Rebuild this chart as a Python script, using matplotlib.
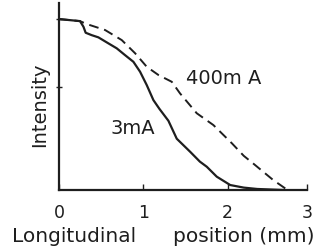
import matplotlib
matplotlib.use("Agg")
import matplotlib.pyplot as plt

# 3 mA (solid)
x_3ma = [0.0, 0.249, 0.29, 0.316, 0.387, 0.467, 0.585, 0.684, 0.783, 0.882, 0.961, 1.04, 1.119,
         1.19, 1.297, 1.396, 1.554, 1.67, 1.752, 1.87, 2.03, 2.19, 2.35, 2.66]
y_3ma = [1.0, 0.988, 0.955, 0.92, 0.906, 0.893, 0.858, 0.829, 0.789, 0.75, 0.692, 0.614, 0.526,
         0.475, 0.405, 0.30, 0.224, 0.166, 0.136, 0.078, 0.029, 0.014, 0.006, 0.0]

# 400 mA (dashed)
x_400 = [0.0, 0.249, 0.328, 0.546, 0.744, 0.902, 1.04, 1.178, 1.337, 1.435, 1.633, 1.83, 2.05,
         2.19, 2.30, 2.54, 2.68, 2.71]
y_400 = [1.0, 0.988, 0.971, 0.936, 0.877, 0.80, 0.721, 0.673, 0.633, 0.565, 0.449, 0.38, 0.273,
         0.20, 0.156, 0.058, 0.01, 0.0]

xticks = [0, 1, 2, 2.94]
xticklabels = ["0", "1", "2", "3"]
yticks = [0.6, 1.0]

INK = "#1e1e1e"

fig = plt.figure(figsize=(3.14, 2.48), dpi=100)
ax = fig.add_axes([59/314, (248-190)/248, (307-59)/314, (190-3)/248])

ax.plot(x_3ma, y_3ma, color=INK, lw=1.6, solid_joinstyle="round")
ax.plot(x_400, y_400, color=INK, lw=1.4, dashes=(5, 3))

ax.set_xlim(0, 2.94)
ax.set_ylim(0, 1.094)
for s in ["top", "right"]:
    ax.spines[s].set_visible(False)
for s in ["left", "bottom"]:
    ax.spines[s].set_linewidth(1.6)
    ax.spines[s].set_color(INK)

ax.set_xticks(xticks)
ax.set_xticklabels(xticklabels, fontsize=12.5)
ax.tick_params(axis="x", direction="in", length=4, width=1, pad=10, colors=INK)
ax.set_yticks(yticks)
ax.set_yticklabels([])
ax.tick_params(axis="y", direction="inout", length=4, width=1, colors=INK)

fig.text(40/314, 1 - 105/248, "Intensity", fontsize=14, rotation=90,
         ha="center", va="center", color=INK)
fig.text(12/314, 1 - 241.7/248, "Longitudinal", fontsize=14.5, ha="left", va="baseline", color=INK)
fig.text(173/314, 1 - 241.7/248, "position (mm)", fontsize=14.5, ha="left", va="baseline", color=INK)

ax.text(1.957, 0.651, "400m A", fontsize=14, ha="center", va="center", color=INK)
ax.text(0.878, 0.358, "3mA", fontsize=14, ha="center", va="center", color=INK)

fig.savefig("out.png", dpi=100)
